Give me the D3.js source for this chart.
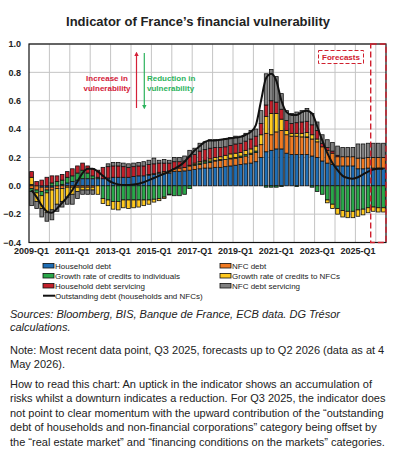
<!DOCTYPE html>
<html><head><meta charset="utf-8">
<script src="https://cdn.jsdelivr.net/npm/d3@7/dist/d3.min.js"></script>
<style>
body{margin:0;background:#fff;}
svg{display:block;font-family:Arial,"Liberation Sans",sans-serif;}
</style></head><body>
<svg id="c" width="417" height="459"></svg>
<script>
// ---------- DATA ----------
const years = [2009,2010,2011,2012,2013,2014,2015,2016,2017,2018,2019,2020,2021,2022,2023,2024,2025,2026];
const quarters = [];
years.forEach(y => [1,2,3,4].forEach(q => { if (!(y === 2026 && q > 2)) quarters.push(y + "-Q" + q); }));

const householdDebt = [0.01,0.0,-0.01,-0.01,-0.01,0.0,0.01,0.02,0.03,0.04,0.05,0.05,0.05,0.05,
  0.05,0.055,0.06,0.06,0.06,0.06,0.065,0.07,0.07,0.075,0.08,0.085,0.09,0.09,
  0.1,0.1,0.105,0.11,0.115,0.12,0.125,0.125,0.13,0.13,0.135,0.14,0.145,0.15,0.155,0.16,0.17,
  0.2,0.24,0.25,0.26,0.26,0.23,0.22,0.22,0.22,0.22,0.21,0.2,
  0.175,0.16,0.15,0.14,0.14,0.14,0.14,0.12,0.12,0.125,0.125,0.125,0.125];
const nfcDebt = [-0.02,-0.03,-0.03,-0.02,-0.02,-0.02,-0.02,-0.01,-0.01,-0.01,-0.01,-0.01,-0.01,0.0,
  0,0,0,0,0,0,0,0,0,0.005,0.005,0.01,0.01,0.015,
  0.02,0.025,0.025,0.03,0.03,0.03,0.035,0.04,0.045,0.05,0.05,0.05,0.05,0.05,0.055,0.06,0.065,
  0.09,0.13,0.11,0.12,0.13,0.13,0.13,0.13,0.125,0.12,0.12,0.11,
  0.1,0.09,0.08,0.065,0.065,0.065,0.065,0.075,0.075,0.075,0.075,0.075,0.075];
const creditIndividuals = [-0.02,-0.02,-0.03,-0.02,0.02,0.03,0.03,0.04,0.04,0.05,0.06,0.04,0.02,0.01,
  -0.09,-0.1,-0.11,-0.11,-0.1,-0.1,-0.1,-0.1,-0.1,-0.1,-0.095,-0.09,-0.08,-0.06,
  -0.07,-0.07,-0.06,-0.02,0.005,0.01,0.01,0.01,0.005,0.005,0,0.005,0.005,0.01,0.01,0.01,0.01,
  0,-0.01,-0.01,-0.01,-0.005,0,0,-0.005,0,0.005,-0.01,-0.04,
  -0.06,-0.1,-0.13,-0.16,-0.175,-0.18,-0.18,-0.17,-0.165,-0.155,-0.15,-0.155,-0.155];
const creditNFCs = [0.05,-0.06,-0.09,-0.14,-0.14,-0.11,-0.09,-0.07,-0.05,-0.03,-0.02,-0.02,-0.02,-0.06,
  -0.035,-0.04,-0.055,-0.06,-0.055,-0.06,-0.055,-0.05,-0.04,-0.03,-0.02,-0.015,-0.01,-0.005,
  0,0,0,0.005,0.01,0.01,0.01,0.015,0.02,0.02,0.03,0.03,0.03,0.025,0.03,0.03,0.035,
  0.07,0.12,0.15,0.13,0.08,0.03,0.02,0.02,0.025,0.03,0.03,0.02,
  0,-0.02,-0.03,-0.04,-0.045,-0.045,-0.045,-0.045,-0.04,-0.035,-0.03,-0.03,-0.03];
const hhDebtServicing = [0.04,0.03,0.04,0.06,0.05,0.04,0.04,0.04,0.05,0.05,0.05,0.05,0.05,0.05,
  0.08,0.08,0.08,0.08,0.075,0.07,0.07,0.07,0.07,0.07,0.07,0.065,0.06,0.055,
  0.05,0.045,0.045,0.06,0.06,0.075,0.075,0.075,0.07,0.065,0.06,0.06,0.065,0.065,0.065,0.07,0.07,
  0.08,0.08,0.09,0.08,0.07,0.07,0.07,0.075,0.08,0.08,0.07,0.06,
  0.025,0.02,0.015,0.01,0,0,0,0,0,0,0,0,0];
const nfcDebtServicing = [-0.10,-0.05,-0.06,-0.06,-0.07,-0.05,-0.04,-0.05,-0.07,-0.05,-0.03,-0.03,-0.03,0.0,
  0,0.02,0.025,0.025,0.025,0.025,0.025,0.025,0.03,0.03,0.04,0.02,0.025,0.02,
  0.03,0.03,0.035,0.045,0.045,0.055,0.055,0.06,0.055,0.055,0.055,0.055,0.055,0.05,0.055,0.06,0.05,
  0.09,0.22,0.22,0.18,0.11,0.07,0.07,0.075,0.08,0.09,0.08,0.06,
  0.06,0.055,0.06,0.065,0.065,0.065,0.065,0.1,0.1,0.1,0.1,0.1,0.1];
const outstandingDebt = [-0.03,-0.08,-0.14,-0.18,-0.19,-0.16,-0.12,-0.08,-0.03,0.03,0.09,0.12,0.12,0.1,
  0.07,0.04,0.02,0.01,0.005,0.005,0.01,0.015,0.025,0.04,0.055,0.07,0.085,0.1,
  0.12,0.14,0.17,0.21,0.25,0.28,0.31,0.32,0.32,0.325,0.33,0.335,0.34,0.345,0.36,0.38,0.43,
  0.6,0.76,0.79,0.74,0.6,0.52,0.5,0.5,0.52,0.53,0.51,0.42,
  0.32,0.23,0.16,0.11,0.07,0.055,0.05,0.06,0.08,0.1,0.115,0.12,0.12];

const seriesNames = ["Household debt","NFC debt","Growth rate of credits to individuals","Growth rate of credits to NFCs","Household debt servicing","NFC debt servicing"];
const seriesValues = [householdDebt,nfcDebt,creditIndividuals,creditNFCs,hhDebtServicing,nfcDebtServicing];
const seriesColors = ["#1f6eb5","#f07a22","#2aa84a","#ffc91f","#c3202b","#808080"];
const xTickLabels = ["2009-Q1","2011-Q1","2013-Q1","2015-Q1","2017-Q1","2019-Q1","2021-Q1","2023-Q1","2025-Q1"];
const yTicks = [-0.4,-0.2,0.0,0.2,0.4,0.6,0.8,1.0];
const gridYears = ["2010-Q1","2011-Q1","2012-Q1","2013-Q1","2014-Q1","2015-Q1","2016-Q1","2017-Q1","2018-Q1","2019-Q1","2020-Q1","2021-Q1","2022-Q1","2023-Q1","2024-Q1","2025-Q1","2026-Q1"];
const forecastStart = "2025-Q4";

// ---------- CHART ----------
const svg = d3.select("#c");
const L = 29, R = 386, T = 44, B = 242.5;
const x = d3.scaleBand().domain(quarters).range([L, R]).paddingInner(0.28).paddingOuter(0.14);
const y = d3.scaleLinear().domain([-0.4, 1.0]).range([B, T]);
const gap = (x.step() - x.bandwidth()) / 2;

svg.append("text").attr("x", 198).attr("y", 26).attr("text-anchor", "middle")
  .attr("font-size", 13).attr("font-weight", "bold").attr("fill", "#222")
  .text("Indicator of France\u2019s financial vulnerability");

// grid
const g = svg.append("g");
g.selectAll("line.h").data(yTicks).join("line")
  .attr("x1", L).attr("x2", R).attr("y1", d => y(d)).attr("y2", d => y(d))
  .attr("stroke", "#c4c4c4").attr("stroke-width", 1);
g.selectAll("line.v").data(gridYears).join("line")
  .attr("x1", d => x(d) - gap).attr("x2", d => x(d) - gap).attr("y1", T).attr("y2", B)
  .attr("stroke", "#c4c4c4").attr("stroke-width", 1);

// stacked bars
const rows = quarters.map((q, i) => { const o = {q}; seriesNames.forEach((n, k) => o[n] = seriesValues[k][i]); return o; });
const stack = d3.stack().keys(seriesNames).offset(d3.stackOffsetDiverging)(rows);
svg.append("g").selectAll("g").data(stack).join("g")
  .attr("fill", (d, k) => seriesColors[k])
  .selectAll("rect").data(d => d).join("rect")
  .attr("x", d => x(d.data.q)).attr("width", x.bandwidth())
  .attr("y", d => y(Math.max(d[0], d[1]))).attr("height", d => Math.abs(y(d[0]) - y(d[1])))
  .attr("stroke", "#111").attr("stroke-width", 0.8);

// line
const line = d3.line().x((d, i) => x(quarters[i]) + x.bandwidth() / 2).y(d => y(d)).curve(d3.curveMonotoneX);
svg.append("path").attr("d", line(outstandingDebt)).attr("fill", "none").attr("stroke", "#111").attr("stroke-width", 2);

// frame
svg.append("rect").attr("x", L).attr("y", T).attr("width", R - L).attr("height", B - T)
  .attr("fill", "none").attr("stroke", "#111").attr("stroke-width", 1.2);

// axes labels
svg.append("g").selectAll("text").data(yTicks).join("text")
  .attr("x", 21).attr("y", d => y(d) + 3.3).attr("text-anchor", "end")
  .attr("font-size", 9).attr("font-weight", "bold").attr("fill", "#222")
  .text(d => d3.format(".1f")(d));
svg.append("g").selectAll("text").data(xTickLabels).join("text")
  .attr("x", d => x(d) + x.bandwidth() / 2).attr("y", 254).attr("text-anchor", "middle")
  .attr("font-size", 9).attr("font-weight", "bold").attr("fill", "#222")
  .text(d => d);

// forecast area
const fx = x(forecastStart) - gap;
svg.append("rect").attr("x", fx).attr("y", T).attr("width", R - fx).attr("height", B - T)
  .attr("fill", "none").attr("stroke", "#d0202e").attr("stroke-width", 1.4).attr("stroke-dasharray", "6,3");
svg.append("rect").attr("x", 318.5).attr("y", 50.5).attr("width", 45).attr("height", 13)
  .attr("fill", "#fff").attr("stroke", "#d0202e").attr("stroke-width", 1).attr("stroke-dasharray", "4,2");
svg.append("text").attr("x", 341).attr("y", 60).attr("text-anchor", "middle")
  .attr("font-size", 8).attr("font-weight", "bold").attr("fill", "#d0202e").text("Forecasts");

// arrows
const defs = svg.append("defs");
[["up","#d42038"],["down","#2db35d"]].forEach(([id,c]) => {
  defs.append("marker").attr("id", "m" + id).attr("viewBox", "0 0 10 10").attr("refX", 5).attr("refY", 5)
    .attr("markerWidth", 4).attr("markerHeight", 4).attr("orient", "auto")
    .append("path").attr("d", "M0,0 L10,5 L0,10 z").attr("fill", c);
});
svg.append("line").attr("x1", 136.5).attr("x2", 136.5).attr("y1", 108).attr("y2", 54)
  .attr("stroke", "#d42038").attr("stroke-width", 1.2).attr("marker-end", "url(#mup)");
svg.append("line").attr("x1", 144.3).attr("x2", 144.3).attr("y1", 53).attr("y2", 107)
  .attr("stroke", "#2db35d").attr("stroke-width", 1.2).attr("marker-end", "url(#mdown)");
const ann = svg.append("g").attr("font-size", 8).attr("font-weight", "bold");
ann.append("text").attr("x", 107).attr("y", 81).attr("text-anchor", "middle").attr("fill", "#d42038").text("Increase in");
ann.append("text").attr("x", 107).attr("y", 91).attr("text-anchor", "middle").attr("fill", "#d42038").text("vulnerability");
ann.append("text").attr("x", 147).attr("y", 80.5).attr("fill", "#2db35d").text("Reduction in");
ann.append("text").attr("x", 147).attr("y", 90.5).attr("fill", "#2db35d").text("vulnerability");

// legend
const legendItems = seriesNames.map((n, k) => ({n, c: seriesColors[k]}));
const legendPos = [[43,0],[220,0],[43,1],[220,1],[43,2],[220,2]];
const order = [0,1,2,3,4,5];
const lg = svg.append("g").attr("font-size", 8).attr("fill", "#222");
order.forEach((k, j) => {
  const [lx, r] = legendPos[j];
  const ly = 265.7 + r * 10;
  lg.append("rect").attr("x", lx).attr("y", ly - 2.3).attr("width", 11).attr("height", 4.6)
    .attr("fill", legendItems[k].c).attr("stroke", "#111").attr("stroke-width", 0.8);
  lg.append("text").attr("x", lx + 12).attr("y", ly + 2.9).text(legendItems[k].n);
});
lg.append("line").attr("x1", 43).attr("x2", 55).attr("y1", 295.7).attr("y2", 295.7).attr("stroke", "#111").attr("stroke-width", 2);
lg.append("text").attr("x", 55).attr("y", 298.6).text("Outstanding debt (households and NFCs)");

// notes
const notes = [
  {t: "Sources: Bloomberg, BIS, Banque de France, ECB data. DG Tr\u00e9sor", y: 317.5, i: true},
  {t: "calculations.", y: 331, i: true},
  {t: "Note: Most recent data point, Q3 2025, forecasts up to Q2 2026 (data as at 4", y: 354},
  {t: "May 2026).", y: 368},
  {t: "How to read this chart: An uptick in the indicator shows an accumulation of", y: 387.5},
  {t: "risks whilst a downturn indicates a reduction. For Q3 2025, the indicator does", y: 402.3},
  {t: "not point to clear momentum with the upward contribution of the \u201coutstanding", y: 416.5},
  {t: "debt of households and non-financial corporations\u201d category being offset by", y: 431},
  {t: "the \u201creal estate market\u201d and \u201cfinancing conditions on the markets\u201d categories.", y: 445.5}
];
svg.append("g").attr("font-size", 11).attr("fill", "#222").selectAll("text").data(notes).join("text")
  .attr("x", 10).attr("y", d => d.y).attr("font-style", d => d.i ? "italic" : "normal").text(d => d.t);
</script>
</body></html>
